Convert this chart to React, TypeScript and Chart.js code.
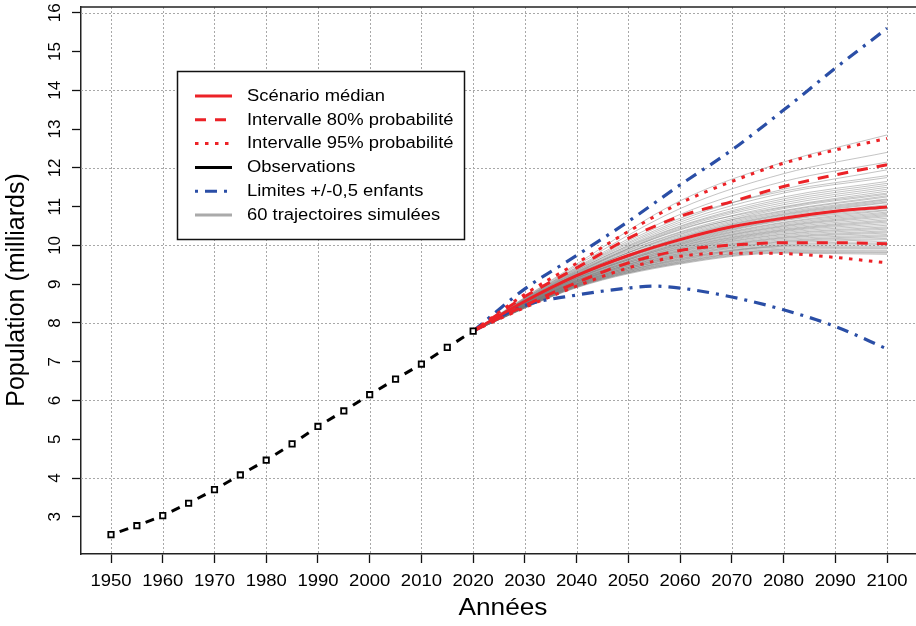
import { useEffect, useRef } from "react";
import { Chart, registerables } from "chart.js";

Chart.register(...registerables);

// ---------------- data ----------------
const OBS_YEARS = [1950, 1955, 1960, 1965, 1970, 1975, 1980, 1985, 1990, 1995, 2000, 2005, 2010, 2015, 2020];
const OBS_POP = [2.54, 2.77, 3.03, 3.35, 3.70, 4.08, 4.46, 4.88, 5.33, 5.73, 6.15, 6.55, 6.94, 7.37, 7.79];

const PROJ_YEARS = [2020, 2030, 2040, 2050, 2060, 2070, 2080, 2090, 2100];
const MEDIAN = [7.79, 8.56, 9.22, 9.74, 10.15, 10.48, 10.70, 10.88, 10.99];
const P80_HIGH = [7.79, 8.68, 9.42, 10.18, 10.75, 11.13, 11.52, 11.82, 12.08];
const P80_LOW = [7.79, 8.45, 9.04, 9.55, 9.87, 10.01, 10.07, 10.07, 10.04];
const P95_HIGH = [7.79, 8.74, 9.54, 10.36, 11.09, 11.65, 12.12, 12.46, 12.76];
const P95_LOW = [7.79, 8.40, 8.95, 9.42, 9.72, 9.80, 9.79, 9.69, 9.55];

const HIGH_YEARS = [2020, 2030, 2040, 2050, 2060, 2070, 2080, 2090, 2100];
const HIGH_LIMIT = [7.79, 8.88, 9.74, 10.62, 11.56, 12.46, 13.49, 14.57, 15.60];
const LOW_YEARS = [2020, 2030, 2040, 2050, 2055, 2060, 2070, 2080, 2090, 2100];
const LOW_LIMIT = [7.79, 8.45, 8.72, 8.90, 8.95, 8.90, 8.67, 8.34, 7.91, 7.33];

// 60 simulated trajectories: values at 2040, 2060, 2080, 2100 (all start at 7.79 in 2020)
const TRAJ_YEARS = [2020, 2040, 2060, 2080, 2100];
const TRAJ_START = 7.79;
const TRAJECTORIES: number[][] = [
  [9.52, 11.15, 12.15, 12.85], [9.48, 10.95, 11.85, 12.40], [9.44, 10.80, 11.65, 12.15],
  [9.40, 10.65, 11.45, 11.95], [9.42, 10.70, 11.40, 11.80], [9.38, 10.60, 11.35, 11.75],
  [9.35, 10.55, 11.25, 11.65], [9.36, 10.50, 11.20, 11.60], [9.33, 10.48, 11.15, 11.55],
  [9.30, 10.45, 11.10, 11.50], [9.32, 10.40, 11.05, 11.45], [9.28, 10.42, 11.00, 11.40],
  [9.30, 10.35, 10.98, 11.35], [9.25, 10.30, 10.95, 11.32], [9.27, 10.33, 10.90, 11.28],
  [9.24, 10.28, 10.88, 11.25], [9.26, 10.25, 10.85, 11.20], [9.22, 10.22, 10.82, 11.18],
  [9.20, 10.20, 10.80, 11.15], [9.23, 10.18, 10.78, 11.12], [9.21, 10.15, 10.75, 11.10],
  [9.19, 10.14, 10.72, 11.05], [9.18, 10.12, 10.70, 11.02], [9.20, 10.10, 10.68, 11.00],
  [9.17, 10.08, 10.66, 10.96], [9.15, 10.06, 10.64, 10.92], [9.16, 10.05, 10.60, 10.90],
  [9.14, 10.03, 10.58, 10.86], [9.13, 10.02, 10.55, 10.83], [9.15, 10.00, 10.52, 10.80],
  [9.12, 9.98, 10.50, 10.77], [9.10, 9.97, 10.48, 10.74], [9.11, 9.95, 10.45, 10.70],
  [9.09, 9.93, 10.42, 10.66], [9.08, 9.92, 10.40, 10.63], [9.10, 9.90, 10.38, 10.60],
  [9.07, 9.88, 10.36, 10.56], [9.06, 9.87, 10.33, 10.52], [9.05, 9.85, 10.30, 10.48],
  [9.07, 9.84, 10.28, 10.45], [9.04, 9.82, 10.25, 10.42], [9.03, 9.80, 10.22, 10.38],
  [9.05, 9.79, 10.20, 10.35], [9.02, 9.77, 10.18, 10.32], [9.01, 9.76, 10.15, 10.28],
  [9.00, 9.74, 10.12, 10.25], [9.02, 9.73, 10.10, 10.22], [8.99, 9.71, 10.08, 10.18],
  [8.98, 9.70, 10.05, 10.15], [9.00, 9.68, 10.02, 10.10], [8.97, 9.66, 10.00, 10.06],
  [8.96, 9.65, 9.98, 10.02], [8.98, 9.63, 9.96, 9.98], [8.95, 9.62, 9.93, 9.95],
  [8.94, 9.60, 9.90, 9.92], [8.96, 9.58, 9.88, 9.88], [8.93, 9.57, 9.86, 9.85],
  [8.92, 9.55, 9.84, 9.82], [8.94, 9.54, 9.82, 9.80], [8.91, 9.52, 9.80, 9.77],
];

const X_TICKS = [1950, 1960, 1970, 1980, 1990, 2000, 2010, 2020, 2030, 2040, 2050, 2060, 2070, 2080, 2090, 2100];
const Y_TICKS = [3, 4, 5, 6, 7, 8, 9, 10, 11, 12, 13, 14, 15, 16];
const Y_GRID = [4, 6, 8, 10, 12, 14, 16];

const LEGEND_LABELS = [
  "Scénario médian",
  "Intervalle 80% probabilité",
  "Intervalle 95% probabilité",
  "Observations",
  "Limites +/-0,5 enfants",
  "60 trajectoires simulées",
];
const X_TITLE = "Années";
const Y_TITLE = "Population (milliards)";

// ---------------- styles ----------------
const RED = "#ec2227";
const BLUE = "#2a4ea6";
const GRAY = "rgba(115,115,115,0.42)";
const FONT = '"Liberation Sans", Arial, Helvetica, sans-serif';
const SX = 1.07;

const toPts = (xs: number[], ys: number[]) => xs.map((x, i) => ({ x, y: ys[i] }));

const LEGEND_STYLES = [
  { color: RED, dash: [] as number[], width: 3 },
  { color: RED, dash: [11, 9], width: 3 },
  { color: RED, dash: [3.5, 6.5], width: 3 },
  { color: "#000", dash: [] as number[], width: 3 },
  { color: BLUE, dash: [3, 7, 12, 7], width: 3 },
  { color: "#aaa", dash: [] as number[], width: 3 },
];

function hText(ctx: CanvasRenderingContext2D, text: string, x: number, y: number, size: number, align: CanvasTextAlign) {
  ctx.save();
  ctx.translate(x, y);
  ctx.scale(SX, 1);
  ctx.font = `${size}px ${FONT}`;
  ctx.fillStyle = "#000";
  ctx.textAlign = align;
  ctx.textBaseline = "middle";
  ctx.fillText(text, 0, 0);
  ctx.restore();
}

function vText(ctx: CanvasRenderingContext2D, text: string, x: number, y: number, size: number) {
  ctx.save();
  ctx.translate(x, y);
  ctx.rotate(-Math.PI / 2);
  ctx.font = `${size}px ${FONT}`;
  ctx.fillStyle = "#000";
  ctx.textAlign = "center";
  ctx.textBaseline = "middle";
  ctx.fillText(text, 0, 0);
  ctx.restore();
}

const decoPlugin = {
  id: "deco",
  beforeDatasetsDraw(chart: any) {
    const { ctx, chartArea: a, scales } = chart;
    ctx.save();
    ctx.strokeStyle = "#a8a8a8";
    ctx.lineWidth = 1;
    ctx.setLineDash([2, 2]);
    for (const v of X_TICKS) {
      const px = Math.round(scales.x.getPixelForValue(v)) + 0.5;
      ctx.beginPath();
      ctx.moveTo(px, a.top);
      ctx.lineTo(px, a.bottom);
      ctx.stroke();
    }
    for (const v of Y_GRID) {
      const py = Math.round(scales.y.getPixelForValue(v)) + 0.5;
      ctx.beginPath();
      ctx.moveTo(a.left, py);
      ctx.lineTo(a.right, py);
      ctx.stroke();
    }
    ctx.restore();
  },
  afterDraw(chart: any) {
    const { ctx, chartArea: a, scales } = chart;
    ctx.save();
    ctx.strokeStyle = "#222";
    ctx.lineWidth = 1.5;
    ctx.beginPath();
    ctx.moveTo(a.left, a.top);
    ctx.lineTo(a.right, a.top);
    ctx.stroke();
    ctx.restore();

    for (const v of X_TICKS) {
      hText(ctx, String(v), scales.x.getPixelForValue(v), 581, 17.3, "center");
    }
    for (const v of Y_TICKS) {
      vText(ctx, String(v), 55, scales.y.getPixelForValue(v), 17);
    }
    hText(ctx, X_TITLE, 503, 608, 24.5, "center");
    vText(ctx, Y_TITLE, 17, 290, 25);

    const bx = 177.5, by = 71.5, bw = 287, bh = 168;
    ctx.save();
    ctx.fillStyle = "#fff";
    ctx.fillRect(bx, by, bw, bh);
    ctx.strokeStyle = "#111";
    ctx.lineWidth = 1.5;
    ctx.strokeRect(bx, by, bw, bh);
    ctx.restore();
    LEGEND_LABELS.forEach((label, i) => {
      const y = 96 + i * 23.8;
      const st = LEGEND_STYLES[i];
      ctx.save();
      ctx.strokeStyle = st.color;
      ctx.lineWidth = st.width;
      ctx.setLineDash(st.dash);
      ctx.beginPath();
      ctx.moveTo(195, y);
      ctx.lineTo(232, y);
      ctx.stroke();
      ctx.restore();
      hText(ctx, label, 247, y, 17.2, "left");
    });
  },
};

export default function App() {
  const ref = useRef<HTMLCanvasElement | null>(null);

  useEffect(() => {
    if (!ref.current) return;
    const common = { pointRadius: 0, fill: false, cubicInterpolationMode: "monotone" as const };

    const grayDatasets = TRAJECTORIES.map((t) => ({
      ...common,
      label: "traj",
      data: toPts(TRAJ_YEARS, [TRAJ_START, ...t]),
      borderColor: GRAY,
      borderWidth: 1,
      order: 20,
    }));

    const chart = new Chart(ref.current, {
      type: "line",
      data: {
        datasets: [
          {
            label: "Observations",
            data: toPts(OBS_YEARS, OBS_POP),
            borderColor: "#000",
            borderWidth: 3,
            borderDash: [9, 300],
            pointRadius: 3.8,
            pointStyle: "rect",
            pointBorderWidth: 1.8,
            pointBorderColor: "#000",
            pointBackgroundColor: "#fff",
            fill: false,
            order: 0,
            segment: {
              borderDashOffset: (c: any) => {
                const L = Math.hypot(c.p1.x - c.p0.x, c.p1.y - c.p0.y);
                return -(L - 9) / 2 - c.p0DataIndex * 1e-4;
              },
            },
          },
          { ...common, label: "med", data: toPts(PROJ_YEARS, MEDIAN), borderColor: RED, borderWidth: 3, order: 1 },
          { ...common, label: "80h", data: toPts(PROJ_YEARS, P80_HIGH), borderColor: RED, borderWidth: 3, borderDash: [11, 9], order: 2 },
          { ...common, label: "80l", data: toPts(PROJ_YEARS, P80_LOW), borderColor: RED, borderWidth: 3, borderDash: [11, 9], order: 2 },
          { ...common, label: "95h", data: toPts(PROJ_YEARS, P95_HIGH), borderColor: RED, borderWidth: 3, borderDash: [3.5, 6.5], order: 3 },
          { ...common, label: "95l", data: toPts(PROJ_YEARS, P95_LOW), borderColor: RED, borderWidth: 3, borderDash: [3.5, 6.5], order: 3 },
          { ...common, label: "hi", data: toPts(HIGH_YEARS, HIGH_LIMIT), borderColor: BLUE, borderWidth: 3.2, borderDash: [12, 7, 3, 7], order: 4 },
          { ...common, label: "lo", data: toPts(LOW_YEARS, LOW_LIMIT), borderColor: BLUE, borderWidth: 3.2, borderDash: [12, 7, 3, 7], order: 4 },
          ...grayDatasets,
        ],
      },
      options: {
        responsive: false,
        animation: false,
        devicePixelRatio: 1,
        events: [],
        layout: { autoPadding: false, padding: { top: 7, left: 0, right: 0, bottom: 0 } },
        plugins: { legend: { display: false }, tooltip: { enabled: false } },
        scales: {
          x: {
            type: "linear",
            min: 1944.2,
            max: 2105.6,
            afterBuildTicks: (s: any) => {
              s.ticks = X_TICKS.map((v) => ({ value: v }));
            },
            afterFit: (s: any) => {
              s.height = 72;
              s.paddingLeft = 0;
              s.paddingRight = 0;
            },
            ticks: { display: false },
            grid: { drawOnChartArea: false, drawTicks: true, tickLength: 9, tickColor: "#111", tickWidth: 1.3, color: "#111" },
            border: { display: true, color: "#222", width: 1.5 },
          },
          y: {
            type: "linear",
            min: 2.04,
            max: 16.15,
            afterBuildTicks: (s: any) => {
              s.ticks = Y_TICKS.map((v) => ({ value: v }));
            },
            afterFit: (s: any) => {
              s.width = 81;
              s.paddingTop = 0;
              s.paddingBottom = 0;
            },
            ticks: { display: false },
            grid: { drawOnChartArea: false, drawTicks: true, tickLength: 9, tickColor: "#111", tickWidth: 1.3, color: "#111" },
            border: { display: true, color: "#222", width: 1.5 },
          },
        },
      },
      plugins: [decoPlugin],
    } as any);

    return () => chart.destroy();
  }, []);

  return (
    <div style={{ position: "fixed", left: 0, top: 0, width: 916, height: 626, background: "#fff" }}>
      <canvas ref={ref} width={916} height={626} style={{ display: "block" }} />
    </div>
  );
}
